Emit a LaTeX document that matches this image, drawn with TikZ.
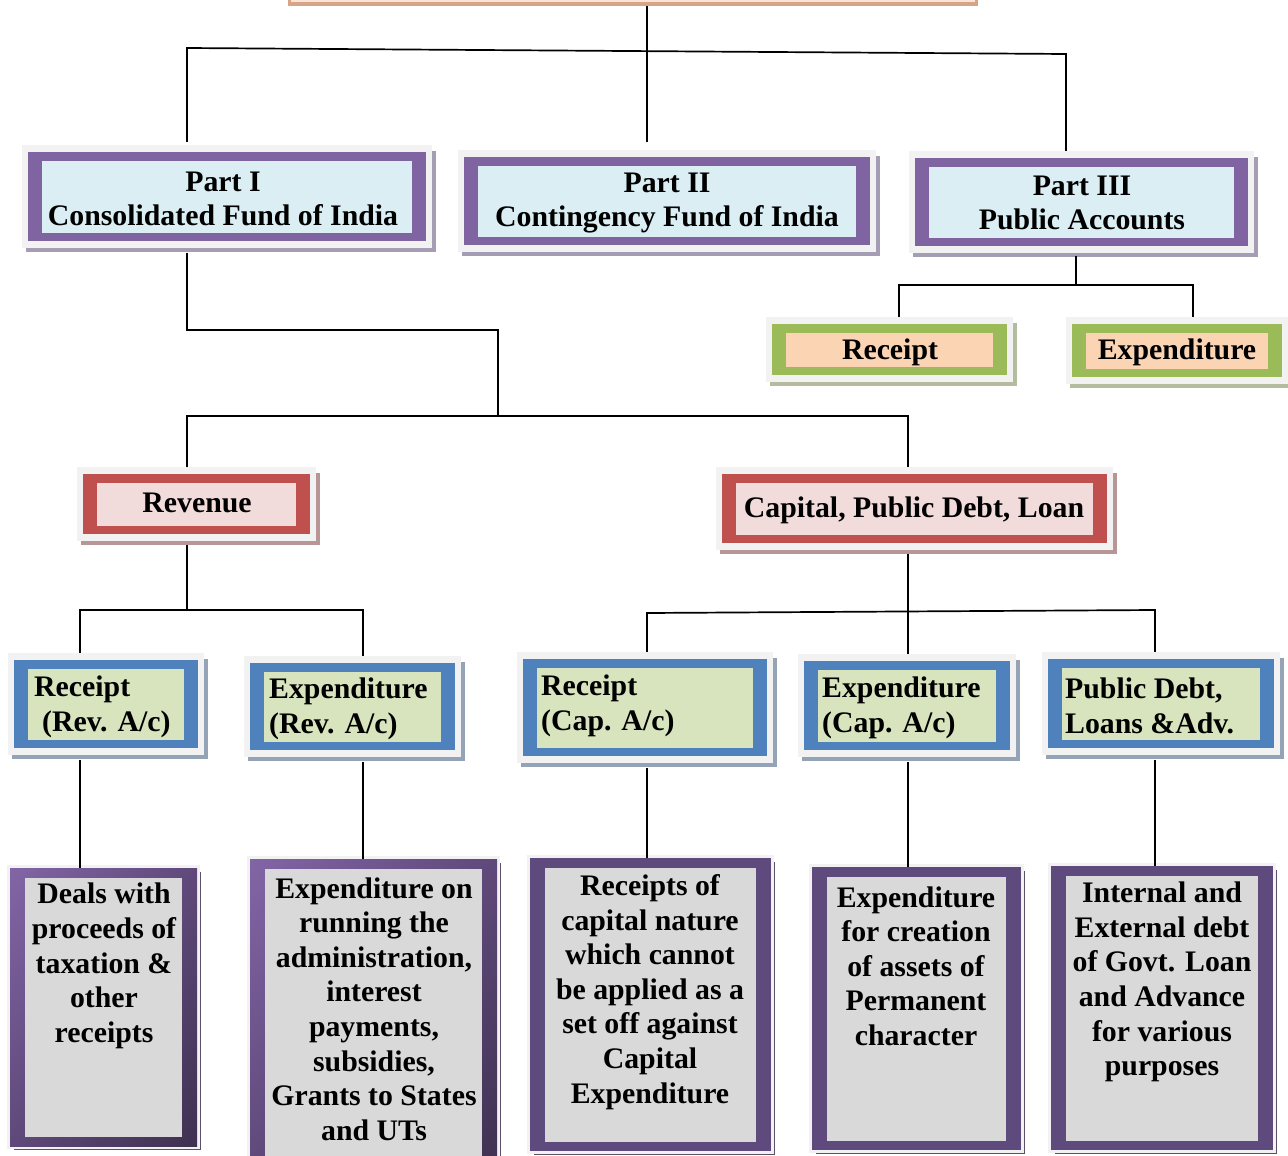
\documentclass[tikz,border=0pt]{standalone}
\usepackage{fontspec}
\setmainfont{Liberation Serif}
\usetikzlibrary{calc,fit,shadings}
\definecolor{cbframe}{HTML}{F2F2F2}
\definecolor{cbPbord}{HTML}{8064A2}\definecolor{cbPin}{HTML}{DAEEF3}\definecolor{cbPshad}{HTML}{A49DB3}
\definecolor{cbGbord}{HTML}{9BBB59}\definecolor{cbGin}{HTML}{FBD4B4}\definecolor{cbGshad}{HTML}{B3BD9E}
\definecolor{cbRbord}{HTML}{C0504D}\definecolor{cbRin}{HTML}{F2DCDB}\definecolor{cbRshad}{HTML}{B99696}
\definecolor{cbBbord}{HTML}{4F81BD}\definecolor{cbBin}{HTML}{D7E4BD}\definecolor{cbBshad}{HTML}{95A3B6}
\definecolor{dpA}{HTML}{8265A6}\definecolor{dpB}{HTML}{3F3151}\definecolor{dpM}{HTML}{5F497A}
\definecolor{dpF}{HTML}{5E4A7C}
\definecolor{greyin}{HTML}{D9D9D9}
\definecolor{tanb}{HTML}{D6A487}\definecolor{tanin}{HTML}{FBE4D5}
\newcommand\cbox[6]{%
  \fill[cb#6shad] (#2+4,#3+6) rectangle (#4+4,#5+4);
  \fill[cbframe] (#2,#3) rectangle (#4,#5);
  \fill[cb#6bord] (#2+6,#3+7) rectangle (#4-6,#5-7);
  \fill[cb#6in] (#2+20,#3+16) rectangle (#4-20,#5-15);
  \node[fit={(#2,#3) (#4,#5)}, inner sep=0pt] (#1) {};
}
\newcommand\dbox[6]{%
  \fill[dpB!85] (#2+4,#3+4) rectangle (#4+4,#5+4);
  \fill[cbframe] (#2-3,#3-3) rectangle (#4+3,#5+3);
  \path[#6] (#2,#3) rectangle (#4,#5);
  \fill[greyin] (#2+15,#3+10) rectangle (#4-15,#5-9);
  \node[fit={(#2,#3) (#4,#5)}, inner sep=0pt] (#1) {};
}
\begin{document}
\begin{tikzpicture}[x=1pt,y=-1pt,
  conn/.style={line width=1.7pt, black},
  txt/.style={font=\bfseries\fontsize{29.8}{34.6}\selectfont, align=center, inner sep=0pt},
  ltxt/.style={txt, align=left, anchor=west},
  grad/.style={shade, upper left=dpA, lower right=dpB, upper right=dpM, lower left=dpM},
  flat/.style={fill=dpF}]
\useasboundingbox (0,0) rectangle (1288,1156);
% clipped title box at top
\fill[tanb] (288,-40) rectangle (978,6);
\fill[tanin] (291,-40) rectangle (975,2);
\node[fit={(288,-40) (978,6)}, inner sep=0pt] (title) {};
% level 1
\cbox{p1}{22}{145}{432}{248}{P}
\cbox{p2}{458}{150}{876}{252}{P}
\cbox{p3}{909}{151}{1254}{253}{P}
\node[txt] (tp1) at (223,199) {Part I\\Consolidated Fund of India};
\node[txt] (tp2) at (667,203) {Part II\\Contingency Fund of India};
\node[txt] (tp3) at (1082,203) {Part III\\Public Accounts};
% public accounts children
\cbox{gr}{766}{317}{1013}{382}{G}
\cbox{ge}{1066}{317}{1288}{384}{G}
\node[txt] (tgr) at (890,352) {Receipt};
\node[txt] (tge) at (1177,352) {Expenditure};
% level 2
\cbox{rev}{77}{467}{316}{541}{R}
\cbox{cap}{716}{467}{1113}{550}{R}
\node[txt] (trev) at (197,503) {Revenue};
\node[txt] (tcap) at (914,510) {Capital, Public Debt, Loan};
% level 3
\cbox{rr}{8}{653}{204}{755}{B}
\cbox{er}{244}{656}{461}{757}{B}
\cbox{rc}{517}{652}{773}{763}{B}
\cbox{ec}{798}{654}{1016}{757}{B}
\cbox{pd}{1042}{652}{1280}{755}{B}
\node[ltxt] (trr) at (34,707) {Receipt\\\hspace*{8pt}(Rev. A/c)};
\node[ltxt] (ter) at (269,709) {Expenditure\\(Rev. A/c)};
\node[ltxt] (trc) at (541,706) {Receipt\\(Cap. A/c)};
\node[ltxt] (tec) at (822,708) {Expenditure\\(Cap. A/c)};
\node[ltxt] (tpd) at (1065,706) {Public Debt,\\Loans \&Adv.};
% level 4
\dbox{d1}{10}{868}{197}{1146}{grad}
\dbox{d2}{250}{859}{497}{1170}{grad}
\dbox{d3}{530}{858}{771}{1151}{flat}
\dbox{d4}{812}{867}{1021}{1150}{flat}
\dbox{d5}{1051}{866}{1273}{1150}{flat}
\node[txt] (td1) at (104,966) {Deals with\\proceeds of\\taxation \&\\other\\receipts};
\node[txt] (td2) at (374,1009) {Expenditure on\\running the\\administration,\\interest\\payments,\\subsidies,\\Grants to States\\and UTs};
\node[txt] (td3) at (650,992) {Receipts of\\capital nature\\which cannot\\be applied as a\\set off against\\Capital\\Expenditure};
\node[txt] (td4) at (916,966) {Expenditure\\for creation\\of assets of\\Permanent\\character};
\node[txt] (td5) at (1162,982) {Internal and\\External debt\\of Govt. Loan\\and Advance\\for various\\purposes};
% connectors
\coordinate (a0) at (647,6);
\draw[conn, shorten >=8pt] (title.south -| a0) -- (a0 |- p2.north);
\coordinate (h1) at (187,48);
\coordinate (h2) at (1066,54);
\draw[conn, shorten <=3pt] (h1 |- p1.north) -- (h1) -- (h2) -- (h2 |- p3.north);
\coordinate (j3) at (1076,285);
\coordinate (k1) at (899,285);
\coordinate (k2) at (1193,285);
\draw[conn, shorten <=3pt] (j3 |- p3.south) -- (j3);
\draw[conn] (k1 |- gr.north) -- (k1) -- (k2) -- (k2 |- ge.north);
\coordinate (m1) at (187,330);
\coordinate (m2) at (498,330);
\coordinate (m3) at (498,416);
\coordinate (m4) at (187,416);
\coordinate (m5) at (908,416);
\draw[conn, shorten <=5pt] (m1 |- p1.south) -- (m1) -- (m2) -- (m3);
\draw[conn] (m4 |- rev.north) -- (m4) -- (m5) -- (m5 |- cap.north);
\coordinate (n1) at (187,610);
\coordinate (n2) at (80,610);
\coordinate (n3) at (363,610);
\draw[conn, shorten <=4pt] (n1 |- rev.south) -- (n1);
\draw[conn] (n2 |- rr.north) -- (n2) -- (n3) -- (n3 |- er.north);
\coordinate (q1) at (908,611);
\coordinate (q2) at (647,613);
\coordinate (q3) at (1155,610);
\draw[conn, shorten <=4pt] (q1 |- cap.south) -- (q1 |- ec.north);
\draw[conn] (q2 |- rc.north) -- (q2) -- (q3) -- (q3 |- pd.north);
\draw[conn, shorten <=5pt] (rr.south -| n2) -- (d1.north -| n2);
\draw[conn, shorten <=5pt] (er.south -| n3) -- (d2.north -| n3);
\draw[conn, shorten <=5pt] (rc.south -| q2) -- (d3.north -| q2);
\draw[conn, shorten <=5pt] (ec.south -| q1) -- (d4.north -| q1);
\draw[conn, shorten <=5pt] (pd.south -| q3) -- (d5.north -| q3);
\end{tikzpicture}
\end{document}
